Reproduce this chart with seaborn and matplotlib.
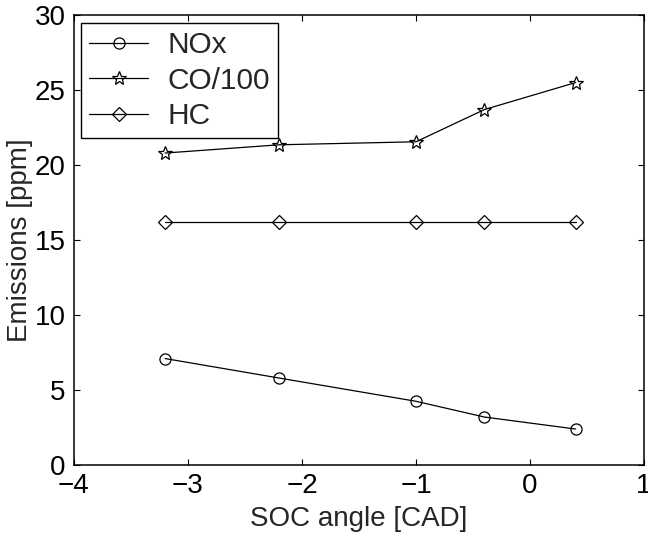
import numpy as np
import pandas as pd
import matplotlib
matplotlib.use("Agg")
import matplotlib.pyplot as plt
import seaborn as sns

# data
soc_angle = [-3.2, -2.2, -1.0, -0.4, 0.4]
nox = [7.1, 5.8, 4.25, 3.2, 2.4]
co_100 = [20.8, 21.35, 21.55, 23.7, 25.5]
hc = [16.2, 16.2, 16.2, 16.2, 16.2]

sns.set_style("ticks")
plt.rcParams['font.family'] = ['Liberation Sans', 'DejaVu Sans']
plt.rcParams['axes.unicode_minus'] = True

fig = plt.figure(figsize=(6.48, 5.37), dpi=100)
ax = fig.add_axes([0.114, 0.134, 0.880, 0.838])

common = dict(color='black', linewidth=0.9, markerfacecolor='none',
              markeredgecolor='black', markeredgewidth=0.9)
sns.lineplot(x=soc_angle, y=nox, marker='o', markersize=8, label='NOx', ax=ax, **common)
sns.lineplot(x=soc_angle, y=co_100, marker='*', markersize=10.5, label='CO/100', ax=ax, **common)
sns.lineplot(x=soc_angle, y=hc, marker='D', markersize=7.5, label='HC', ax=ax, **common)

ax.set_xlim(-4, 1)
ax.set_ylim(0, 30)
ax.set_xticks([-4, -3, -2, -1, 0, 1])
ax.set_yticks([0, 5, 10, 15, 20, 25, 30])
ax.tick_params(direction='in', length=4, width=0.8, top=True, right=True,
               labelsize=20, pad=6, colors='black')
for s in ax.spines.values():
    s.set_visible(True)
    s.set_linewidth(1.1)
    s.set_color('black')

ax.set_xlabel('SOC angle [CAD]', fontsize=20, labelpad=5)
ax.set_ylabel('Emissions [ppm]', fontsize=20)
ax.yaxis.set_label_coords(-0.072, 0.5)

leg = ax.legend(loc='upper left', bbox_to_anchor=(0.012, 0.982), borderaxespad=0,
                fontsize=21.5, frameon=True, fancybox=False, framealpha=1,
                edgecolor='black', handlelength=2.0, handletextpad=0.63,
                labelspacing=0.25, borderpad=0.27)
leg.get_frame().set_linewidth(1.0)

fig.savefig('out.png', dpi=100)
